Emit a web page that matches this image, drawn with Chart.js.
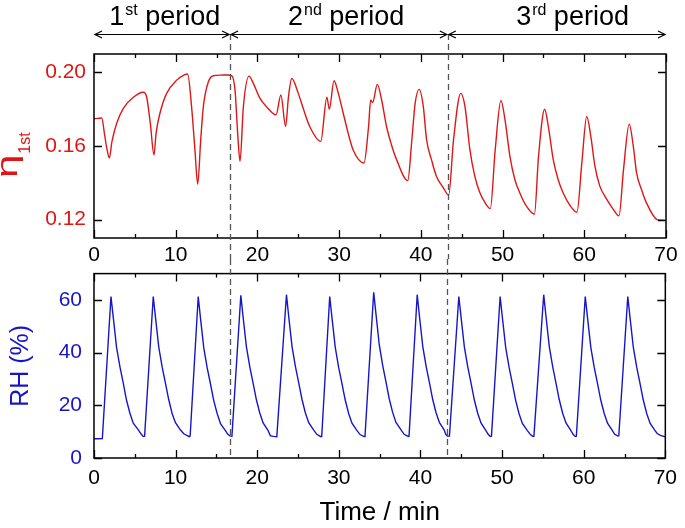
<!DOCTYPE html>
<html>
<head>
<meta charset="utf-8">
<script src="https://cdn.jsdelivr.net/npm/chart.js@4.4.0/dist/chart.umd.min.js"></script>
<style>
  html, body { margin: 0; padding: 0; background: #fff; }
  #wrap { position: relative; width: 685px; height: 528px; }
  canvas { position: absolute; left: 0; }
  #top { top: 0; }
  #bot { top: 249px; }
</style>
</head>
<body>
<div id="wrap">
  <canvas id="top" width="685" height="268"></canvas>
  <canvas id="bot" width="685" height="279"></canvas>
</div>
<script>
// time (min), eta_1st
const etaData = [
  [0, 0.1748], [0.5, 0.1750], [0.95, 0.1752], [1.3, 0.166], [1.6, 0.158], [1.88, 0.1535],
  [2.2, 0.1625], [2.78, 0.1724], [3.59, 0.1805], [4.81, 0.1865], [6.04, 0.1892],
  [6.45, 0.1865], [6.9, 0.1720], [7.34, 0.1551], [7.6, 0.1670], [8.07, 0.1778],
  [8.89, 0.1886], [10.12, 0.1958], [11.0, 0.1985], [11.46, 0.1991], [11.94, 0.1814],
  [12.35, 0.1580], [12.69, 0.1393], [13.06, 0.1634], [13.38, 0.1814], [14.0, 0.1949],
  [14.6, 0.1982], [15.5, 0.1985], [16.4, 0.1986], [16.85, 0.1983],
  [17.26, 0.1904], [17.58, 0.1670], [17.87, 0.1517], [18.28, 0.1814], [18.97, 0.1980],
  [19.5, 0.1940], [20.3, 0.1860], [21.1, 0.1814], [22.28, 0.1769], [22.87, 0.1877],
  [23.45, 0.1706], [23.8, 0.1868], [24.2, 0.1967], [25.0, 0.1886], [25.6, 0.1805],
  [26.4, 0.1706], [27.75, 0.1625], [28.5, 0.1865], [28.8, 0.1800], [29.37, 0.1955],
  [29.9, 0.1886], [30.5, 0.1778], [31.1, 0.1670], [31.7, 0.1580], [33.04, 0.1508],
  [33.6, 0.1706], [33.86, 0.1850], [34.1, 0.1836], [34.67, 0.1935], [35.2, 0.1850],
  [35.8, 0.1706], [36.4, 0.1607], [37.03, 0.1526], [38.4, 0.1412], [38.9, 0.1634],
  [39.3, 0.1832], [39.8, 0.1908], [40.3, 0.1814], [40.7, 0.1634], [41.3, 0.1526],
  [41.9, 0.1436], [42.75, 0.1373], [43.4, 0.1333],
  [44.0, 0.1634], [44.88, 0.1886], [45.4, 0.1814], [46.0, 0.1580], [46.6, 0.1436],
  [47.2, 0.1348], [47.85, 0.1292], [48.5, 0.1260], [49.1, 0.1580], [49.8, 0.1847],
  [50.3, 0.1742], [50.9, 0.1544], [51.5, 0.1418], [52.1, 0.1346], [52.9, 0.1274],
  [53.9, 0.1229], [54.4, 0.1544], [55.15, 0.1800], [55.6, 0.1706], [56.2, 0.1526],
  [56.8, 0.1418], [57.4, 0.1346], [58.3, 0.1274], [59.1, 0.1240], [59.7, 0.1508],
  [60.3, 0.1760], [60.8, 0.1652], [61.3, 0.1490], [61.9, 0.1382], [62.75, 0.1310],
  [63.55, 0.1256], [64.25, 0.1220], [64.8, 0.1472], [65.5, 0.1719], [66.0, 0.1598],
  [66.4, 0.1454], [67.0, 0.1364], [67.6, 0.1292], [68.9, 0.1200], [69.4, 0.1197],
  [70, 0.1195]
];

// time (min), RH (%)
const rhData = [
  [0, 7.3], [0.5, 7.3], [1.02, 7.4], [2.08, 61.3],
  [2.36, 53.4], [2.76, 42.1], [3.18, 34.6], [3.59, 28.3], [3.98, 22.0], [4.4, 17.0],
  [4.81, 13.2], [5.43, 10.7], [5.8, 9.0], [6.03, 8.2], [6.2, 8.3], [7.26, 61.3],
  [7.54, 53.2], [7.94, 42.0], [8.36, 34.4], [8.77, 28.1], [9.16, 22.1], [9.58, 16.8],
  [9.98, 13.4], [10.6, 10.6], [11.0, 9.2], [11.66, 8.1], [11.78, 8.3], [12.77, 61.3],
  [13.05, 53.0], [13.45, 41.8], [13.87, 34.2], [14.28, 28.0], [14.67, 21.8], [15.09, 16.9],
  [15.5, 13.0], [16.1, 10.4], [16.4, 9.0], [16.65, 8.4], [16.9, 8.3], [17.99, 61.8],
  [18.27, 53.5], [18.67, 42.3], [19.09, 34.6], [19.5, 28.3], [19.89, 22.2], [20.31, 17.1],
  [20.72, 13.3], [21.3, 10.6], [21.6, 8.5], [21.95, 8.2], [22.4, 8.1], [23.58, 62.0],
  [23.86, 53.6], [24.26, 42.4], [24.68, 34.7], [25.09, 28.4], [25.48, 22.3], [25.9, 17.1],
  [26.31, 13.4], [26.9, 10.7], [27.3, 9.0], [27.78, 8.1], [27.9, 8.2], [28.88, 61.3],
  [29.16, 53.2], [29.56, 42.0], [29.98, 34.3], [30.39, 28.1], [30.78, 22.0], [31.2, 16.9],
  [31.61, 13.2], [32.2, 10.5], [32.6, 8.9], [33.09, 8.1], [33.2, 8.2], [34.27, 62.9],
  [34.55, 54.6], [34.95, 43.0], [35.37, 35.2], [35.78, 28.8], [36.17, 22.5], [36.59, 17.3],
  [37.0, 13.5], [37.6, 10.8], [38.0, 9.0], [38.5, 8.2], [38.6, 8.3], [39.6, 62.0],
  [39.88, 53.7], [40.28, 42.4], [40.7, 34.7], [41.11, 28.4], [41.5, 22.2], [41.92, 17.1],
  [42.33, 13.4], [42.9, 10.7], [43.1, 9.0], [43.3, 8.3], [43.55, 8.3], [44.7, 61.3],
  [44.98, 53.3], [45.38, 42.1], [45.8, 34.5], [46.21, 28.2], [46.6, 22.0], [47.02, 16.9],
  [47.43, 13.2], [48.0, 10.5], [48.3, 9.0], [48.54, 8.2], [48.7, 8.3], [49.76, 61.3],
  [50.04, 53.2], [50.44, 42.0], [50.86, 34.4], [51.27, 28.1], [51.66, 21.9], [52.08, 16.8],
  [52.49, 13.1], [53.1, 10.4], [53.5, 8.8], [53.77, 8.2], [53.9, 8.3], [55.1, 62.0],
  [55.38, 53.7], [55.78, 42.4], [56.2, 34.7], [56.61, 28.3], [57.0, 22.2], [57.42, 17.0],
  [57.83, 13.3], [58.4, 10.6], [58.7, 9.0], [58.96, 8.2], [59.1, 8.3], [60.19, 61.3],
  [60.47, 53.2], [60.87, 42.0], [61.29, 34.4], [61.7, 28.1], [62.09, 22.0], [62.51, 16.9],
  [62.92, 13.2], [63.5, 10.5], [63.8, 9.0], [64.14, 8.4], [64.3, 8.4], [65.4, 61.3],
  [65.68, 53.2], [66.08, 42.0], [66.5, 34.4], [66.91, 28.1], [67.3, 22.0], [67.72, 16.9],
  [68.13, 13.2], [68.7, 10.6], [69.0, 9.3], [69.4, 8.6], [70, 8.0]
];

const timeTicks = [0, 5, 10, 15, 20, 25, 30, 35, 40, 45, 50, 55, 60, 65, 70];
const etaTicks = [0.12, 0.16, 0.20];
const rhTicks = [0, 20, 40, 60];
const periodBounds = [0, 16.65, 43.3, 70];
const periodNum = ['1', '2', '3'];
const periodSup = ['st', 'nd', 'rd'];

const RED = 'rgb(224,22,22)';
const BLUE = 'rgb(22,22,200)';
const FONT = '"Liberation Sans", Arial, sans-serif';
Chart.defaults.font.family = FONT;

// frame all round, with inward ticks on every side
const framePlugin = {
  id: 'frame',
  afterDraw(chart) {
    const { ctx, chartArea: a, scales: { x, y } } = chart;
    ctx.save();
    ctx.strokeStyle = '#000';
    ctx.lineWidth = 1.5;
    ctx.strokeRect(a.left, a.top, a.right - a.left, a.bottom - a.top);
    ctx.lineWidth = 1.3;
    ctx.beginPath();
    x.ticks.forEach(t => {
      const px = Math.round(x.getPixelForValue(t.value)) + 0.5;
      const len = t.value % 10 === 0 ? 8 : 4;
      ctx.moveTo(px, a.bottom); ctx.lineTo(px, a.bottom - len);
      ctx.moveTo(px, a.top); ctx.lineTo(px, a.top + len);
    });
    y.ticks.forEach(t => {
      const py = Math.round(y.getPixelForValue(t.value)) + 0.5;
      ctx.moveTo(a.left, py); ctx.lineTo(a.left + 8, py);
      ctx.moveTo(a.right, py); ctx.lineTo(a.right - 8, py);
    });
    ctx.stroke();
    ctx.restore();
  }
};

function dashedBounds(chart, y1, y2) {
  const { ctx, scales: { x } } = chart;
  ctx.save();
  ctx.strokeStyle = '#555';
  ctx.lineWidth = 1.3;
  ctx.setLineDash([6, 4]);
  ctx.beginPath();
  [periodBounds[1], periodBounds[2]].forEach(v => {
    const px = Math.round(x.getPixelForValue(v)) + 0.5;
    ctx.moveTo(px, y1); ctx.lineTo(px, y2);
  });
  ctx.stroke();
  ctx.restore();
}

const topExtras = {
  id: 'topExtras',
  afterDraw(chart) {
    const { ctx, scales: { x } } = chart;
    dashedBounds(chart, 34, 259);

    // double arrows for the periods
    const ay = 34.5;
    ctx.save();
    ctx.strokeStyle = '#000';
    ctx.lineWidth = 1.2;
    ctx.beginPath();
    for (let i = 0; i < 3; i++) {
      const x1 = x.getPixelForValue(periodBounds[i]) + 1;
      const x2 = x.getPixelForValue(periodBounds[i + 1]) - 1;
      ctx.moveTo(x1, ay); ctx.lineTo(x2, ay);
      ctx.moveTo(x1 + 7, ay - 3.5); ctx.lineTo(x1, ay); ctx.lineTo(x1 + 7, ay + 3.5);
      ctx.moveTo(x2 - 7, ay - 3.5); ctx.lineTo(x2, ay); ctx.lineTo(x2 - 7, ay + 3.5);
    }
    ctx.stroke();

    // period labels with superscripts
    const centres = [8.6, 30.8, 58.5];
    ctx.fillStyle = '#000';
    ctx.textBaseline = 'alphabetic';
    ctx.textAlign = 'left';
    for (let i = 0; i < 3; i++) {
      const big = '27px ' + FONT, small = '16px ' + FONT;
      ctx.font = big;
      const w1 = ctx.measureText(periodNum[i]).width;
      const w3 = ctx.measureText(' period').width;
      ctx.font = small;
      const w2 = ctx.measureText(periodSup[i]).width;
      let px = x.getPixelForValue(centres[i]) - (w1 + w2 + w3) / 2;
      const by = 25;
      ctx.font = big; ctx.fillText(periodNum[i], px, by); px += w1 + 1;
      ctx.font = small; ctx.fillText(periodSup[i], px, by - 10); px += w2;
      ctx.font = big; ctx.fillText(' period', px, by);
    }

    // eta_1st axis title
    ctx.fillStyle = RED;
    ctx.translate(17, 178);
    ctx.rotate(-Math.PI / 2);
    ctx.font = '30px ' + FONT;
    const we = ctx.measureText('η').width * 1.4;
    ctx.save();
    ctx.scale(1.4, 1);
    ctx.fillText('η', 0, 0);
    ctx.restore();
    ctx.font = '16px ' + FONT;
    ctx.fillText('1st', we + 1, 13);
    ctx.restore();
  }
};

const botExtras = {
  id: 'botExtras',
  afterDraw(chart) {
    dashedBounds(chart, 10, chart.chartArea.bottom);
  }
};

const xScale = (afterH, pad, title) => ({
  type: 'linear',
  min: periodBounds[0],
  max: periodBounds[3],
  afterBuildTicks: s => { s.ticks = timeTicks.map(v => ({ value: v })); },
  afterFit: s => { s.height = afterH; },
  grid: { display: false, drawTicks: false },
  border: { display: false },
  title: title,
  ticks: {
    autoSkip: false,
    maxRotation: 0,
    padding: pad,
    color: '#000',
    font: { size: 21 },
    callback: v => (v % 10 === 0 ? String(v) : '')
  }
});

new Chart(document.getElementById('top'), {
  type: 'line',
  data: {
    datasets: [{
      data: etaData.map(([t, v]) => ({ x: t, y: v })),
      borderColor: RED,
      borderWidth: 1.4,
      pointRadius: 0,
      cubicInterpolationMode: 'monotone',
      fill: false
    }]
  },
  options: {
    responsive: false,
    animation: false,
    events: [],
    layout: { padding: { top: 54, right: 19, left: 0, bottom: 0 } },
    plugins: { legend: { display: false }, tooltip: { enabled: false } },
    scales: {
      x: xScale(30, 5, { display: false }),
      y: {
        min: 0.11,
        max: 0.21,
        afterBuildTicks: s => { s.ticks = etaTicks.map(v => ({ value: v })); },
        afterFit: s => { s.width = 94; },
        grid: { display: false, drawTicks: false },
        border: { display: false },
        ticks: { color: RED, font: { size: 21 }, padding: 8, callback: v => v.toFixed(2) }
      }
    }
  },
  plugins: [framePlugin, topExtras]
});

new Chart(document.getElementById('bot'), {
  type: 'line',
  data: {
    datasets: [{
      data: rhData.map(([t, v]) => ({ x: t, y: v })),
      borderColor: BLUE,
      borderWidth: 1.4,
      pointRadius: 0,
      tension: 0,
      fill: false
    }]
  },
  options: {
    responsive: false,
    animation: false,
    events: [],
    layout: { padding: { top: 24, right: 19, left: 0, bottom: 0 } },
    plugins: { legend: { display: false }, tooltip: { enabled: false } },
    scales: {
      x: xScale(70, 8, {
        display: true, text: 'Time / min', color: '#000',
        font: { size: 26 }, padding: { top: 0, bottom: 0 }
      }),
      y: {
        min: 0,
        max: 70,
        afterBuildTicks: s => { s.ticks = rhTicks.map(v => ({ value: v })); },
        afterFit: s => { s.width = 94; },
        grid: { display: false, drawTicks: false },
        border: { display: false },
        title: { display: true, text: 'RH (%)', color: BLUE, font: { size: 25 }, padding: { top: 6, bottom: 0 } },
        ticks: { color: BLUE, font: { size: 21 }, padding: 12 }
      }
    }
  },
  plugins: [framePlugin, botExtras]
});
</script>
</body>
</html>
